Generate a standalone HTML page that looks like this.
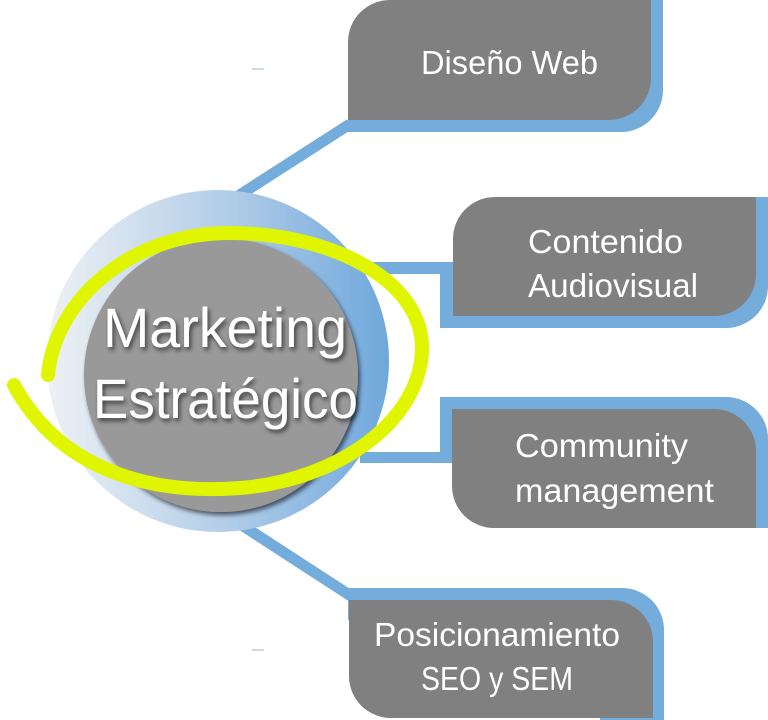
<!DOCTYPE html>
<html><head><meta charset="utf-8"><style>
html,body{margin:0;padding:0;background:#fff;width:768px;height:720px;overflow:hidden}
svg{display:block}
text{font-family:"Liberation Sans",sans-serif;fill:#fff}
</style></head><body>
<svg width="768" height="720" viewBox="0 0 768 720">
<defs>
<linearGradient id="g" x1="0" y1="0" x2="1" y2="0">
<stop offset="0" stop-color="#eef1f5"/>
<stop offset="0.5" stop-color="#b5cfe8"/>
<stop offset="1" stop-color="#6fa8dc"/>
</linearGradient>
<filter id="sh" x="-10%" y="-10%" width="130%" height="140%">
<feGaussianBlur in="SourceAlpha" stdDeviation="2.5"/><feOffset dx="2" dy="3"/>
<feComponentTransfer><feFuncA type="linear" slope="0.6"/></feComponentTransfer>
<feMerge><feMergeNode/><feMergeNode in="SourceGraphic"/></feMerge></filter>
</defs>
<g fill="#74acdb" stroke="none">
<path d="M420,0 H663 V90 A42,42 0 0 1 621,132 H348 V100 H420 Z"/>
<path d="M440,262 H700 V197 H768 V286 A42,42 0 0 1 726,328 H440 Z"/>
<path d="M360,262 H452 V274 H360 Z"/>
<path d="M440,397 H726 A42,42 0 0 1 768,439 V528 H700 V463 H440 Z"/>
<path d="M360,452 H452 V463 H360 Z"/>
<path d="M348,588 H622 A42,42 0 0 1 664,630 V720 H600 V620 H348 Z"/>
</g>
<g stroke="#74acdb" stroke-width="11" fill="none">
<line x1="238" y1="196" x2="350" y2="124"/>
<line x1="240" y1="524" x2="354" y2="598"/>
</g>
<g fill="#808080">
<path d="M348,42 A42,42 0 0 1 390,0 H651 V78 A42,42 0 0 1 609,120 H348 Z"/>
<path d="M453,239 A42,42 0 0 1 495,197 H756 V274 A42,42 0 0 1 714,316 H453 Z"/>
<path d="M452,409 H714 A42,42 0 0 1 756,451 V528 H494 A42,42 0 0 1 452,486 Z"/>
<path d="M349,600 H611 A42,42 0 0 1 653,642 V718 H391 A42,42 0 0 1 349,676 Z"/>
</g>
<line x1="252" y1="69" x2="264" y2="69" stroke="#b5cfe8" stroke-width="1.5"/>
<line x1="252" y1="650" x2="264" y2="650" stroke="#b5cfe8" stroke-width="1.5"/>
<circle cx="218" cy="361" r="171" fill="url(#g)"/>
<circle cx="221" cy="375" r="137" fill="#999" filter="url(#sh)"/>
<path d="M14,385 C60,470 150,495 240,488 C340,480 420,420 422,350 C424,280 330,233 230,233 C130,233 55,300 48,375" fill="none" stroke="#e0f500" stroke-width="14" stroke-linecap="round"/>
<g filter="url(#sh)">
<text x="103" y="347" font-size="56" textLength="244" lengthAdjust="spacingAndGlyphs">Marketing</text>
<text x="93" y="418" font-size="56" textLength="265" lengthAdjust="spacingAndGlyphs">Estratégico</text>
</g>
<g font-size="33">
<text x="421" y="74" textLength="177" lengthAdjust="spacingAndGlyphs">Diseño Web</text>
<text x="528" y="253" textLength="155" lengthAdjust="spacingAndGlyphs">Contenido</text>
<text x="528" y="297" textLength="170" lengthAdjust="spacingAndGlyphs">Audiovisual</text>
<text x="515" y="457" textLength="173" lengthAdjust="spacingAndGlyphs">Community</text>
<text x="515" y="502" textLength="199" lengthAdjust="spacingAndGlyphs">management</text>
<text x="374" y="646" textLength="246" lengthAdjust="spacingAndGlyphs">Posicionamiento</text>
<text x="421" y="690" textLength="152" lengthAdjust="spacingAndGlyphs">SEO y SEM</text>
</g>
</svg>
</body></html>
